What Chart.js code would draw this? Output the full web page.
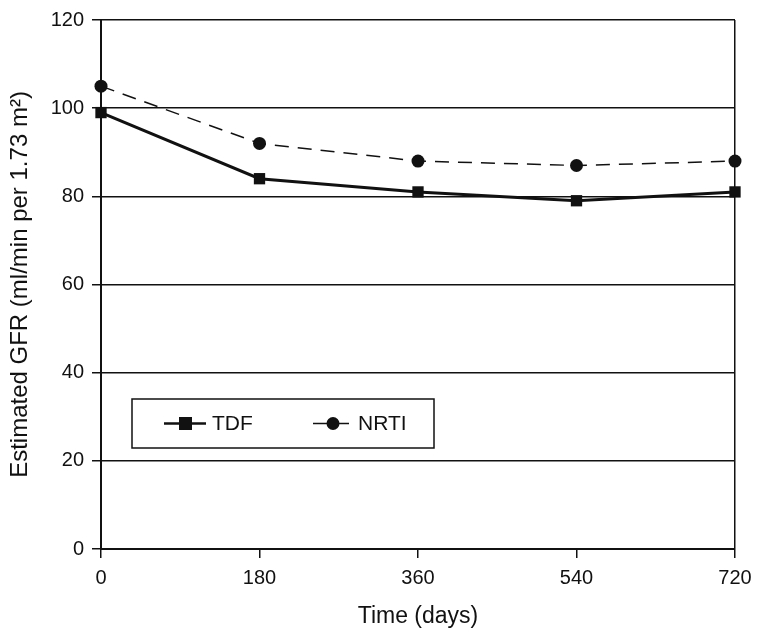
<!DOCTYPE html>
<html>
<head>
<meta charset="utf-8">
<script src="https://cdn.jsdelivr.net/npm/chart.js@4"></script>
<style>
  html, body { margin: 0; padding: 0; background: #fff; }
  #wrap { width: 762px; height: 641px; }
</style>
</head>
<body>
<div id="wrap"><canvas id="myChart" width="762" height="641"></canvas></div>
<script>
// data
const days = [0, 180, 360, 540, 720];
const tdf = [99, 84, 81, 79, 81];
const nrti = [105, 92, 88, 87, 88];
const xTicks = [0, 180, 360, 540, 720];
const yTicks = [0, 20, 40, 60, 80, 100, 120];

const FONT = "'Liberation Sans', Arial, sans-serif";

// legend box drawn inside the plot, lower left
const boxLegend = {
  id: "boxLegend",
  afterDraw(chart) {
    const c = chart.ctx;
    const a = chart.chartArea;
    const x0 = a.left + 31, y0 = a.top + 379, w = 302, h = 49;
    const cy = y0 + h / 2;
    c.save();
    c.fillStyle = "#fff";
    c.fillRect(x0, y0, w, h);
    c.strokeStyle = "#111";
    c.lineWidth = 1.5;
    c.strokeRect(x0, y0, w, h);

    // TDF
    c.lineWidth = 2.5;
    c.beginPath();
    c.moveTo(x0 + 32, cy);
    c.lineTo(x0 + 74, cy);
    c.stroke();
    c.fillStyle = "#111";
    c.fillRect(x0 + 47, cy - 6.5, 13, 13);

    // NRTI
    c.lineWidth = 1.5;
    c.beginPath();
    c.moveTo(x0 + 181, cy);
    c.lineTo(x0 + 217, cy);
    c.stroke();
    c.beginPath();
    c.arc(x0 + 201, cy, 6.5, 0, Math.PI * 2);
    c.fill();

    c.font = "21px " + FONT;
    c.textBaseline = "middle";
    c.fillText("TDF", x0 + 80, cy + 1);
    c.fillText("NRTI", x0 + 226, cy + 1);
    c.restore();
  },
};

const ctx = document.getElementById("myChart");

new Chart(ctx, {
  type: "line",
  data: {
    labels: days,
    datasets: [
      {
        label: "TDF",
        data: days.map((d, i) => ({ x: d, y: tdf[i] })),
        borderColor: "#111",
        backgroundColor: "#111",
        borderWidth: 3,
        pointStyle: "rect",
        pointRadius: 8,
        pointBorderWidth: 0,
        tension: 0,
        clip: false,
      },
      {
        label: "NRTI",
        data: days.map((d, i) => ({ x: d, y: nrti[i] })),
        borderColor: "#111",
        backgroundColor: "#111",
        borderWidth: 1.5,
        borderDash: [14, 9],
        pointStyle: "circle",
        pointRadius: 6.5,
        pointBorderWidth: 0,
        tension: 0,
        clip: false,
      },
    ],
  },
  options: {
    responsive: false,
    animation: false,
    layout: {
      padding: { top: 18, right: 27, left: 0, bottom: 0 },
    },
    plugins: {
      legend: { display: false },
      tooltip: { enabled: false },
    },
    scales: {
      x: {
        type: "linear",
        min: 0,
        max: 720,
        afterBuildTicks(scale) {
          scale.ticks = xTicks.map((v) => ({ value: v }));
        },
        afterFit(scale) {
          scale.height = 92;
        },
        ticks: {
          color: "#111",
          padding: 8,
          font: { family: FONT, size: 20 },
        },
        grid: {
          color: (c) => (c.tick && c.tick.value === 720 ? "#111" : "rgba(0,0,0,0)"),
          tickColor: "#111",
          tickLength: 9,
          lineWidth: 1.5,
        },
        border: { display: true, color: "#111", width: 2 },
        title: {
          display: true,
          text: "Time (days)",
          color: "#111",
          font: { family: FONT, size: 23 },
          padding: { top: 2, bottom: 11 },
        },
      },
      y: {
        min: 0,
        max: 120,
        afterBuildTicks(scale) {
          scale.ticks = yTicks.map((v) => ({ value: v }));
        },
        afterFit(scale) {
          scale.width = 101;
        },
        ticks: {
          color: "#111",
          padding: 8,
          font: { family: FONT, size: 20 },
        },
        grid: {
          color: "#111",
          tickColor: "#111",
          tickLength: 9,
          lineWidth: 1.5,
        },
        border: { display: true, color: "#111", width: 2 },
        title: {
          display: true,
          text: "Estimated GFR (ml/min per 1.73 m²)",
          color: "#111",
          font: { family: FONT, size: 24 },
          padding: { top: 6, bottom: 2 },
        },
      },
    },
  },
  plugins: [boxLegend],
});
</script>
</body>
</html>
